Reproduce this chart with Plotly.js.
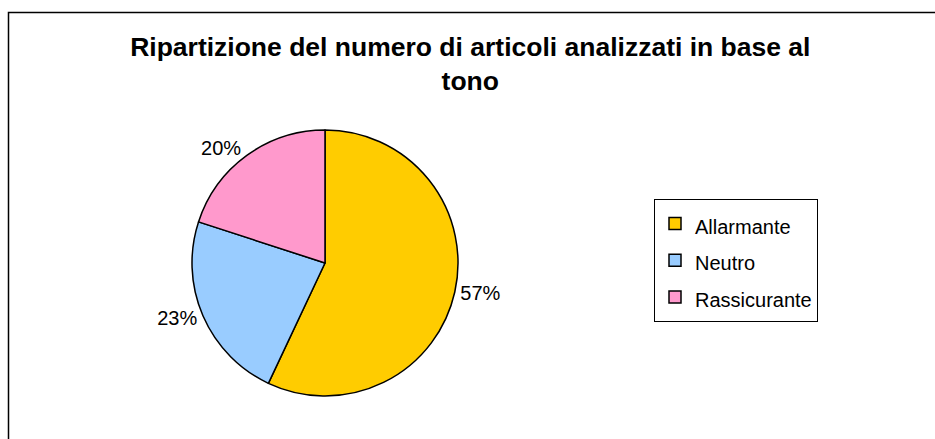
<!DOCTYPE html>
<html>
<head>
<meta charset="utf-8">
<script src="https://cdn.plot.ly/plotly-3.0.1.min.js"></script>
<style>html,body{margin:0;padding:0;background:#fff;}#chart{width:935px;height:439px;}</style>
</head>
<body>
<div id="chart"></div>
<script>
const titleText = "Ripartizione del numero di articoli analizzati in base al<br>tono";
const categories = ["Allarmante", "Neutro", "Rassicurante"];
const values = [57, 23, 20];
const colors = ["#FFCC00", "#99CCFF", "#FF99CC"];

const W = 935, H = 439;
const cx = 325, cy = 263, r = 133;

const trace = {
  type: "pie",
  labels: categories.map(c => '<span style="font-size:20px">' + c + '</span>'),
  values: values,
  sort: false,
  direction: "clockwise",
  rotation: 0,
  marker: {colors: colors, line: {color: "#000", width: 1.5}},
  textinfo: "percent",
  textposition: "outside",
  outsidetextfont: {size: 20, color: "#000", family: "Liberation Sans, Arial, sans-serif"},
  hoverinfo: "label+percent",
  domain: {x: [(cx - r) / W, (cx + r) / W], y: [(H - cy - r) / H, (H - cy + r) / H]},
  automargin: false
};

const layout = {
  width: W, height: H,
  margin: {l: 0, r: 0, t: 0, b: 0},
  paper_bgcolor: "#fff",
  font: {family: "Liberation Sans, Arial, sans-serif", color: "#000"},
  title: {text: titleText, font: {size: 26.5, color: "#000", family: "Liberation Sans, Arial, sans-serif", weight: "bold"}, x: 0.503, xanchor: "center", y: 1 - 56 / H, yanchor: "top"},
  showlegend: true,
  legend: {
    x: 654 / W, y: 1 - 199 / H, xanchor: "left", yanchor: "top",
    bordercolor: "#000", borderwidth: 1, bgcolor: "#fff",
    font: {size: 26, color: "#000"}
  },
  shapes: [{
    type: "rect", xref: "paper", yref: "paper",
    x0: 8.5 / W, x1: 1.05, y0: -0.05, y1: 1 - 12.5 / H,
    line: {color: "#000", width: 1.5}
  }]
};

Plotly.newPlot("chart", [trace], layout, {displayModeBar: false, staticPlot: true});
</script>
</body>
</html>
